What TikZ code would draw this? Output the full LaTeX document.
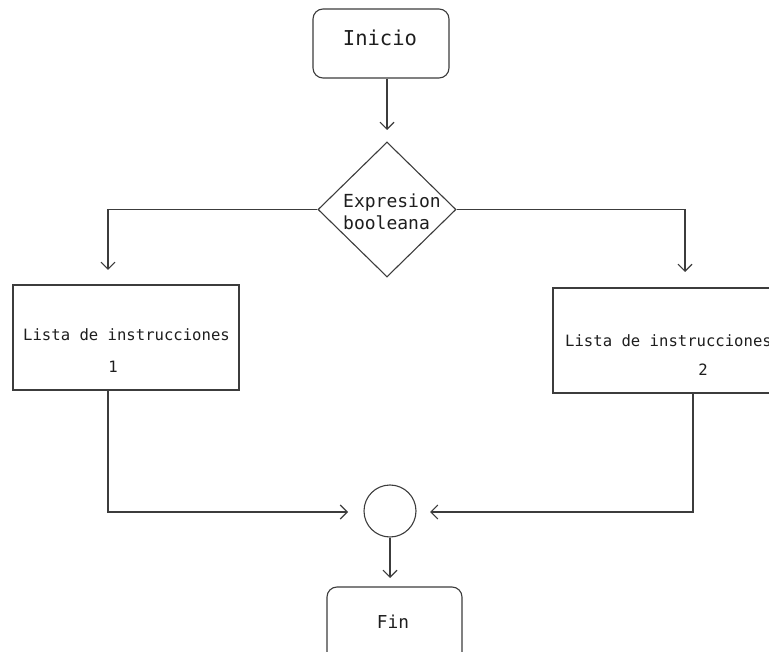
\documentclass[tikz,border=0pt]{standalone}
\usepackage{fontspec}
\setmonofont{DejaVu Sans Mono}
\usetikzlibrary{shapes.geometric,arrows.meta}

\definecolor{linegray}{HTML}{3C3C3C}
\definecolor{inkdark}{HTML}{1E1E1E}

\tikzset{
  flowline/.style={draw=linegray, line width=1.1pt},
  flowarrow/.style={flowline, -{Straight Barb[length=7pt,width=14pt,line width=1.1pt]}},
  terminal/.style={flowline, rectangle, rounded corners=10pt, inner sep=0pt},
  procbox/.style={flowline, rectangle, inner sep=0pt},
  decision/.style={flowline, diamond, inner sep=0pt},
  joint/.style={flowline, circle, inner sep=0pt, minimum size=52pt},
  label/.style={text=inkdark, inner sep=0pt, font=\ttfamily\fontsize{15.6pt}{18pt}\selectfont}
}

\begin{document}
\begin{tikzpicture}[x=1pt, y=-1pt]
  \useasboundingbox (0,0) rectangle (769,652);
  \clip (0,0) rectangle (769,652);

  % start terminal
  \node[terminal, minimum width=136pt, minimum height=69pt] (inicio) at (381,43.5) {};
  \node[label, font=\ttfamily\fontsize{20.5pt}{24pt}\selectfont] (tinicio) at (380,38) {Inicio};

  % decision
  \node[decision, minimum width=138pt, minimum height=135pt] (cond) at (387,209.5) {};
  \node[label, font=\ttfamily\fontsize{18pt}{22pt}\selectfont, align=left, anchor=west] (tcond) at (343,212) {Expresion\\booleana};

  % instruction blocks
  \node[procbox, minimum width=226pt, minimum height=105pt] (lista1) at (126,337.5) {};
  \node[label] (tlista1) at (126.5,335) {Lista de instrucciones};
  \node[label] (tnum1) at (113,367) {1};

  \node[procbox, minimum width=250pt, minimum height=105pt] (lista2) at (678,340.5) {};
  \node[label, anchor=west] (tlista2) at (565,341) {Lista de instrucciones};
  \node[label] (tnum2) at (703,370) {2};

  % merge point
  \node[joint] (union) at (390,511) {};

  % end terminal
  \node[terminal, minimum width=135pt, minimum height=100pt] (fin) at (394.5,637) {};
  \node[label, font=\ttfamily\fontsize{17.8pt}{21pt}\selectfont] (tfin) at (393,622) {Fin};

  % free ends of the connectors
  \coordinate (in1) at (108,270);
  \coordinate (in2) at (685,272);
  \coordinate (out1) at (108,390);
  \coordinate (out2) at (693,393);
  \coordinate (m1) at (348,512);
  \coordinate (m2) at (430,512);
  \coordinate (toif) at (387,130);
  \coordinate (tofin) at (390,578);

  % connectors
  \draw[flowarrow] (inicio.south -| toif) -- (toif);
  \draw[flowarrow] (cond.west) -| (in1);
  \draw[flowarrow] (cond.east) -| (in2);
  \draw[flowarrow] (out1) |- (m1);
  \draw[flowarrow] (out2) |- (m2);
  \draw[flowarrow] (union.south) -- (tofin);
\end{tikzpicture}
\end{document}
